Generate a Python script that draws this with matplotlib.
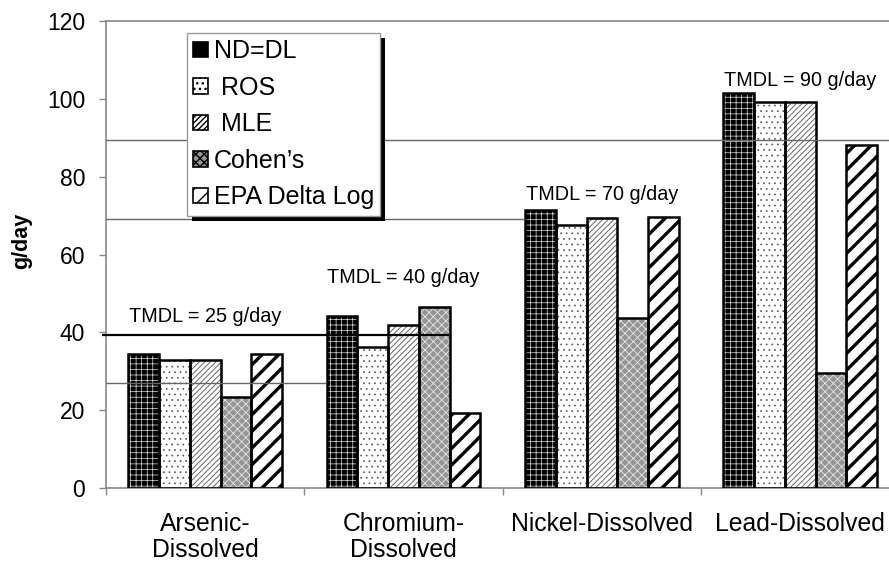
import matplotlib
matplotlib.use("Agg")
import matplotlib.pyplot as plt
import numpy as np
from matplotlib.patches import Rectangle, Patch
from matplotlib.transforms import IdentityTransform

plt.rcParams['font.family'] = ['Liberation Sans', 'DejaVu Sans']

categories = ["Arsenic-\nDissolved", "Chromium-\nDissolved", "Nickel-Dissolved", "Lead-Dissolved"]
series_names = ["ND=DL", " ROS", " MLE", "Cohen\u2019s", "EPA Delta Log"]
nd_dl = [34.4, 44.2, 71.4, 101.6]
ros = [32.9, 36.2, 67.7, 99.2]
mle = [32.9, 41.9, 69.4, 99.2]
cohens = [23.3, 46.6, 43.6, 29.6]
epa_delta_log = [34.4, 19.4, 69.6, 88.1]
series_values = [nd_dl, ros, mle, cohens, epa_delta_log]

tmdl_labels = ["TMDL = 25 g/day", "TMDL = 40 g/day", "TMDL = 70 g/day", "TMDL = 90 g/day"]
tmdl_label_y = [42.7, 52.6, 74.0, 103.3]
ref_line_y = [27.1, 39.3, 69.1, 89.5]
ref_line_end = [0.61, 1.23, 1.61, 3.5]
yticks = [0, 20, 40, 60, 80, 100, 120]

# styles: (facecolor, hatch, hatchcolor, hatch linewidth)
styles = [
    ("black", "+++", "#dddddd", 0.5),
    ("white", "...", "#555555", 0.5),
    ("white", "//////", "#666666", 0.7),
    ("#959595", "xxxx", "#e6e6e6", 0.6),
    ("white", "//", "black", 2.4),
]

fig = plt.figure(figsize=(8.89, 5.62), dpi=100)
ax = fig.add_axes([106/889, 74/562, 793.5/889, 467/562])

x = np.arange(len(categories))
bw = 0.155
handles = []
for k, (vals, st) in enumerate(zip(series_values, styles)):
    fc, hatch, hc, hlw = st
    pos = x + (k - 2) * bw
    with plt.rc_context({'hatch.linewidth': hlw, 'hatch.color': hc}):
        bars = ax.bar(pos, vals, width=bw, color=fc, edgecolor=hc, hatch=hatch,
                      linewidth=0, zorder=2)
        for b in bars:
            if hasattr(b, 'set_hatch_linewidth'):
                b.set_hatch_linewidth(hlw)
        h = Patch(facecolor=fc, edgecolor=hc, hatch=hatch, linewidth=0)
        if hasattr(h, 'set_hatch_linewidth'):
            h.set_hatch_linewidth(hlw)
    ax.bar(pos, vals, width=bw, facecolor='none', edgecolor='black', linewidth=1.8, zorder=3)
    handles.append(h)

for yv, xe in zip(ref_line_y, ref_line_end):
    if abs(yv - 39.3) < 0.5:
        ax.hlines(yv, -0.52, xe, color='black', linewidth=1.6, zorder=4, clip_on=False)
    else:
        ax.hlines(yv, -0.5, xe, color='#666666', linewidth=1.0, zorder=4)

for i, (lab, yv) in enumerate(zip(tmdl_labels, tmdl_label_y)):
    ax.text(x[i] + 0.0, yv, lab, ha='center', va='baseline', fontsize=14.3, zorder=5)

ax.set_xlim(-0.5, len(categories) - 0.5)
ax.set_ylim(0, 120)
ax.set_yticks(yticks)
ax.set_yticklabels([str(v) for v in yticks])
ax.set_xticks(x)
ax.set_xticklabels(categories, fontsize=17.8, linespacing=1.15)
ax.tick_params(axis='x', length=0, pad=17)
ax.set_xticks(np.arange(len(categories) + 1) - 0.5, minor=True)
ax.tick_params(axis='x', which='minor', length=5, color='#888888', width=1)
ax.tick_params(axis='y', length=5, color='#888888', width=1, labelsize=16.5, pad=10)
for s in ['left', 'bottom', 'top', 'right']:
    ax.spines[s].set_color('#888888')
    ax.spines[s].set_linewidth(1.2)

fig.text(21.5/889, 1 - 241/562, 'g/day', rotation=90, ha='center', va='center',
         fontweight='bold', fontsize=15.5)

leg = ax.legend(handles, series_names, loc='upper left',
                bbox_to_anchor=(187/889, 1 - 33/562), bbox_transform=fig.transFigure,
                borderaxespad=0, fontsize=18, frameon=True, fancybox=False,
                edgecolor='#999999', framealpha=1, handlelength=0.6, handleheight=0.6,
                handletextpad=0.22, labelspacing=0.5, borderpad=0.25)
leg.get_frame().set_linewidth(1.0)
leg.set_zorder(10)
for lh in leg.legend_handles:
    lh.set_edgecolor('black')
    lh.set_linewidth(1.2)

fig.canvas.draw()
bb = leg.get_window_extent()
shadow = Rectangle((bb.x0 + 5, bb.y0 - 5), bb.width, bb.height, transform=IdentityTransform(),
                   facecolor='black', edgecolor='none', zorder=9, clip_on=False)
ax.add_artist(shadow)

fig.savefig('out.png', dpi=100)
